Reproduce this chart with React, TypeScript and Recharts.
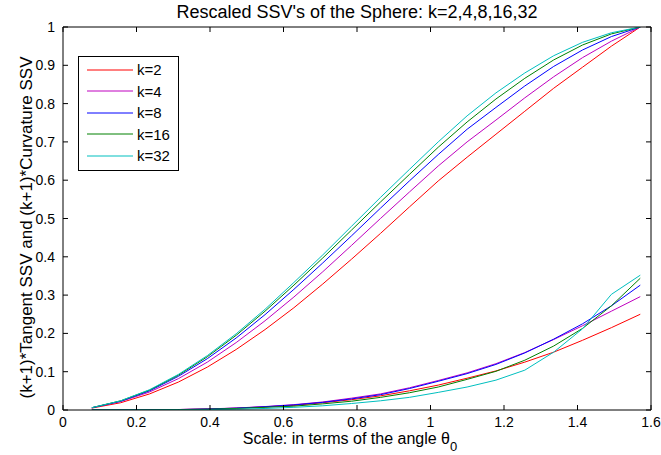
import { LineChart, Line, XAxis, YAxis, Legend, Label } from 'recharts';

// angle theta_0 at which the SSVs were sampled
const thetaValues = [
  0.0785, 0.1571, 0.2356, 0.3142, 0.3927, 0.4712, 0.5498, 0.6283, 0.7069, 0.7854,
  0.8639, 0.9425, 1.021, 1.0996, 1.1781, 1.2566, 1.3352, 1.4137, 1.4923, 1.5708,
];

const kLabels = ['k=2', 'k=4', 'k=8', 'k=16', 'k=32'];
const seriesColors = ['#ff0000', '#bf00bf', '#0000ff', '#008000', '#00bfbf'];

// (k+1)*Tangent SSV
const tangentK2 = [0.005, 0.019, 0.042, 0.073, 0.112, 0.158, 0.21, 0.267, 0.329, 0.394, 0.461, 0.53, 0.598, 0.66, 0.72, 0.78, 0.84, 0.895, 0.95, 1.0];
const tangentK4 = [0.0055, 0.022, 0.047, 0.082, 0.125, 0.176, 0.233, 0.295, 0.361, 0.43, 0.5, 0.569, 0.637, 0.7, 0.757, 0.815, 0.87, 0.92, 0.963, 1.0];
const tangentK8 = [0.006, 0.023, 0.05, 0.088, 0.134, 0.188, 0.249, 0.315, 0.384, 0.455, 0.527, 0.598, 0.667, 0.733, 0.79, 0.846, 0.897, 0.94, 0.975, 1.0];
const tangentK16 = [0.006, 0.024, 0.052, 0.091, 0.139, 0.195, 0.258, 0.326, 0.397, 0.47, 0.543, 0.615, 0.686, 0.752, 0.812, 0.866, 0.914, 0.953, 0.982, 1.0];
const tangentK32 = [0.006, 0.024, 0.053, 0.093, 0.142, 0.199, 0.263, 0.333, 0.405, 0.48, 0.555, 0.628, 0.7, 0.768, 0.828, 0.88, 0.925, 0.96, 0.985, 1.0];

// (k+1)*Curvature SSV
const curvatureK2 = [0, 0.0001, 0.0004, 0.0012, 0.0026, 0.0047, 0.008, 0.012, 0.019, 0.027, 0.037, 0.05, 0.065, 0.083, 0.102, 0.125, 0.151, 0.182, 0.215, 0.25];
const curvatureK4 = [0, 0.0001, 0.0005, 0.0013, 0.0028, 0.0052, 0.009, 0.014, 0.021, 0.031, 0.042, 0.058, 0.077, 0.097, 0.121, 0.15, 0.184, 0.22, 0.258, 0.296];
const curvatureK8 = [0, 0.0001, 0.0004, 0.0012, 0.0026, 0.0048, 0.0085, 0.0132, 0.02, 0.029, 0.04, 0.056, 0.075, 0.095, 0.119, 0.149, 0.185, 0.225, 0.272, 0.326];
const curvatureK16 = [0, 0.0001, 0.0003, 0.001, 0.0021, 0.004, 0.007, 0.01, 0.016, 0.023, 0.033, 0.045, 0.06, 0.08, 0.101, 0.13, 0.167, 0.213, 0.272, 0.344];
const curvatureK32 = [0, 0, 0.0001, 0.0004, 0.001, 0.002, 0.004, 0.007, 0.011, 0.017, 0.024, 0.033, 0.046, 0.06, 0.078, 0.104, 0.151, 0.212, 0.302, 0.352];

const xTicks = [0, 0.2, 0.4, 0.6, 0.8, 1, 1.2, 1.4, 1.6];
const yTicks = [0, 0.1, 0.2, 0.3, 0.4, 0.5, 0.6, 0.7, 0.8, 0.9, 1];

const tangentSeries = [tangentK2, tangentK4, tangentK8, tangentK16, tangentK32];
const curvatureSeries = [curvatureK2, curvatureK4, curvatureK8, curvatureK16, curvatureK32];

const data = thetaValues.map((theta, i) => {
  const row: Record<string, number> = { theta };
  kLabels.forEach((_, s) => {
    row[`t${s}`] = tangentSeries[s][i];
    row[`c${s}`] = curvatureSeries[s][i];
  });
  return row;
});

const FONT = '"Liberation Sans", Arial, Helvetica, sans-serif';
const TICK_LEN = 5;
const LABEL_GAP = 7;

// MATLAB-style ticks: short marks pointing into the plot box
function BottomTick({ x, y, payload }: any) {
  const axisY = y - LABEL_GAP;
  return (
    <g>
      <line x1={x} x2={x} y1={axisY} y2={axisY - TICK_LEN} stroke="#000" />
      <text x={x} y={y} dy="0.72em" textAnchor="middle" fontSize={14} fontFamily={FONT} fill="#000">
        {payload.value}
      </text>
    </g>
  );
}

function LeftTick({ x, y, payload }: any) {
  const axisX = x + LABEL_GAP;
  return (
    <g>
      <line x1={axisX} x2={axisX + TICK_LEN} y1={y} y2={y} stroke="#000" />
      <text x={x - 1} y={y} dy="0.36em" textAnchor="end" fontSize={14} fontFamily={FONT} fill="#000">
        {payload.value}
      </text>
    </g>
  );
}

function TopTick({ x, y }: any) {
  return <line x1={x} x2={x} y1={y} y2={y + TICK_LEN} stroke="#000" />;
}

function RightTick({ x, y }: any) {
  return <line x1={x} x2={x - TICK_LEN} y1={y} y2={y} stroke="#000" />;
}

function LegendBox() {
  return (
    <div
      style={{
        border: '1px solid #000',
        background: '#fff',
        padding: '2px 6px 3px 8px',
        fontFamily: FONT,
        fontSize: 15,
        boxSizing: 'border-box',
      }}
    >
      {kLabels.map((label, i) => (
        <div key={label} style={{ display: 'flex', alignItems: 'center', height: 21.5 }}>
          <svg width={46} height={4} style={{ display: 'block' }}>
            <line x1={0} x2={46} y1={2} y2={2} stroke={seriesColors[i]} strokeWidth={1} />
          </svg>
          <span style={{ marginLeft: 4, lineHeight: '15px' }}>{label}</span>
        </div>
      ))}
    </div>
  );
}

function TitleLabel({ viewBox }: any) {
  const cx = viewBox.x + viewBox.width / 2;
  return (
    <text x={cx} y={12} dominantBaseline="central" textAnchor="middle" fontSize={18} fontFamily={FONT} fill="#000">
      Rescaled SSV's of the Sphere: k=2,4,8,16,32
    </text>
  );
}

function XAxisTitle({ viewBox }: any) {
  const cx = viewBox.x + viewBox.width / 2 - 7;
  return (
    <text x={cx} y={viewBox.y + 34} textAnchor="middle" fontSize={16} fontFamily={FONT} fill="#000">
      Scale: in terms of the angle θ
      <tspan dy={7} fontSize={13}>0</tspan>
    </text>
  );
}

function YAxisTitle({ viewBox }: any) {
  const cx = 26;
  const cy = viewBox.y + viewBox.height / 2 + 9;
  return (
    <text
      x={cx}
      y={cy}
      transform={`rotate(-90, ${cx}, ${cy})`}
      dominantBaseline="central"
      textAnchor="middle"
      fontSize={17}
      fontFamily={FONT}
      fill="#000"
    >
      (k+1)*Tangent SSV and (k+1)*Curvature SSV
    </text>
  );
}

export default function App() {
  return (
    <div style={{ position: 'fixed', left: 0, top: 0, width: 661, height: 455, background: '#fff' }}>
      <LineChart width={661} height={455} data={data} margin={{ top: 26, right: 9, bottom: 0, left: 0 }}>
        <XAxis
          dataKey="theta"
          type="number"
          domain={[0, 1.6]}
          ticks={xTicks}
          interval={0}
          allowDataOverflow
          height={45}
          tickSize={0}
          tickMargin={LABEL_GAP}
          tick={<BottomTick />}
          axisLine={{ stroke: '#000' }}
        >
          <Label content={<XAxisTitle />} />
        </XAxis>
        {/* same scale as the bottom axis, drawn on the top edge of the box */}
        <XAxis
          xAxisId="top"
          dataKey="theta"
          orientation="top"
          type="number"
          domain={[0, 1.6]}
          ticks={xTicks}
          interval={0}
          allowDataOverflow
          height={1}
          tickSize={0}
          tickMargin={0}
          tick={<TopTick />}
          axisLine={{ stroke: '#000' }}
        >
          <Label content={<TitleLabel />} />
        </XAxis>
        <YAxis
          type="number"
          domain={[0, 1]}
          ticks={yTicks}
          interval={0}
          allowDataOverflow
          width={63}
          tickSize={0}
          tickMargin={LABEL_GAP}
          tick={<LeftTick />}
          axisLine={{ stroke: '#000' }}
        >
          <Label content={<YAxisTitle />} />
        </YAxis>
        {/* same scale as the left axis, drawn on the right edge of the box */}
        <YAxis
          yAxisId="right"
          orientation="right"
          type="number"
          domain={[0, 1]}
          ticks={yTicks}
          interval={0}
          allowDataOverflow
          width={1}
          tickSize={0}
          tickMargin={0}
          tick={<RightTick />}
          axisLine={{ stroke: '#000' }}
        />
        <Legend
          layout="vertical"
          align="center"
          verticalAlign="middle"
          content={<LegendBox />}
          wrapperStyle={{ left: 78, top: 56, width: 101, bottom: 'auto', right: 'auto' }}
        />
        {kLabels.map((label, s) => (
          <Line
            key={`t${s}`}
            dataKey={`t${s}`}
            name={label}
            type="linear"
            stroke={seriesColors[s]}
            strokeWidth={1}
            dot={false}
            activeDot={false}
            isAnimationActive={false}
          />
        ))}
        {kLabels.map((label, s) => (
          <Line
            key={`c${s}`}
            xAxisId="top"
            yAxisId="right"
            dataKey={`c${s}`}
            name={`${label} curvature`}
            legendType="none"
            type="linear"
            stroke={seriesColors[s]}
            strokeWidth={1}
            dot={false}
            activeDot={false}
            isAnimationActive={false}
          />
        ))}
      </LineChart>
    </div>
  );
}
